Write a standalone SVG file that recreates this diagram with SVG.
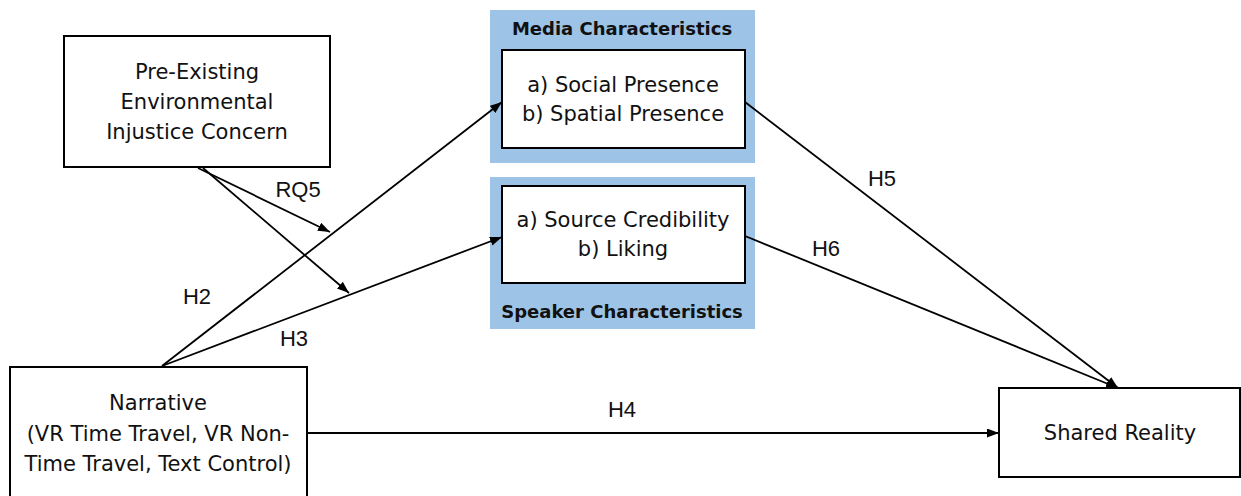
<svg xmlns="http://www.w3.org/2000/svg" width="1241" height="496" viewBox="0 0 1241 496">
  <style>
    .box { fill: #ffffff; stroke: #000000; stroke-width: 2; }
    .panel { fill: #9DC3E6; stroke: none; }
    .node-text { font-family: "DejaVu Sans", sans-serif; font-size: 21px; fill: #111111; text-anchor: middle; }
    .panel-title { font-family: "DejaVu Sans", sans-serif; font-size: 18px; font-weight: bold; fill: #111111; text-anchor: middle; }
    .edge { stroke: #000000; stroke-width: 1.8; fill: none; }
    .edge-label { font-family: "Liberation Sans", Arial, sans-serif; font-size: 22px; fill: #111111; text-anchor: middle; }
  </style>
  <defs>
    <marker id="arrow" markerUnits="userSpaceOnUse" markerWidth="13" markerHeight="10" refX="12" refY="4.5" orient="auto">
      <path d="M0,0 L12,4.5 L0,9 z" fill="#000000"/>
    </marker>
  </defs>

  <rect width="1241" height="496" fill="#ffffff"/>

  <!-- media characteristics panel -->
  <g id="media">
    <rect class="panel" x="490" y="10" width="265" height="153"/>
    <text class="panel-title" x="622" y="35">Media Characteristics</text>
    <rect class="box" x="502" y="50" width="243" height="98"/>
    <text class="node-text" x="623" y="92">a) Social Presence</text>
    <text class="node-text" x="623" y="121">b) Spatial Presence</text>
  </g>

  <!-- speaker characteristics panel -->
  <g id="speaker">
    <rect class="panel" x="490" y="177" width="265" height="152"/>
    <rect class="box" x="502" y="186" width="243" height="97"/>
    <text class="node-text" x="623" y="227">a) Source Credibility</text>
    <text class="node-text" x="623" y="256">b) Liking</text>
    <text class="panel-title" x="622" y="318">Speaker Characteristics</text>
  </g>

  <g id="concern">
    <rect class="box" x="64" y="36" width="266" height="131"/>
    <text class="node-text" x="197" y="79">Pre-Existing</text>
    <text class="node-text" x="197" y="109">Environmental</text>
    <text class="node-text" x="197" y="139">Injustice Concern</text>
  </g>

  <g id="narrative">
    <rect class="box" x="10" y="367" width="297" height="140"/>
    <text class="node-text" x="158" y="410">Narrative</text>
    <text class="node-text" x="158" y="441">(VR Time Travel, VR Non-</text>
    <text class="node-text" x="158" y="471">Time Travel, Text Control)</text>
  </g>

  <g id="shared-reality">
    <rect class="box" x="999" y="388" width="241" height="89"/>
    <text class="node-text" x="1120" y="440">Shared Reality</text>
  </g>

  <!-- paths between the constructs -->
  <g id="connectors">
    <line class="edge" x1="162" y1="366" x2="502" y2="102" marker-end="url(#arrow)"/>
    <line class="edge" x1="162" y1="366" x2="502" y2="237" marker-end="url(#arrow)"/>
    <line class="edge" x1="198" y1="168" x2="330" y2="232" marker-end="url(#arrow)"/>
    <line class="edge" x1="203" y1="168" x2="349" y2="293" marker-end="url(#arrow)"/>
    <line class="edge" x1="745" y1="102" x2="1118" y2="388" marker-end="url(#arrow)"/>
    <line class="edge" x1="745" y1="236" x2="1118" y2="388" marker-end="url(#arrow)"/>
    <line class="edge" x1="308" y1="433" x2="999" y2="433" marker-end="url(#arrow)"/>

    <text class="edge-label" x="298" y="197">RQ5</text>
    <text class="edge-label" x="197" y="304">H2</text>
    <text class="edge-label" x="294" y="346">H3</text>
    <text class="edge-label" x="622" y="417">H4</text>
    <text class="edge-label" x="882" y="186">H5</text>
    <text class="edge-label" x="826" y="256">H6</text>
  </g>
</svg>
